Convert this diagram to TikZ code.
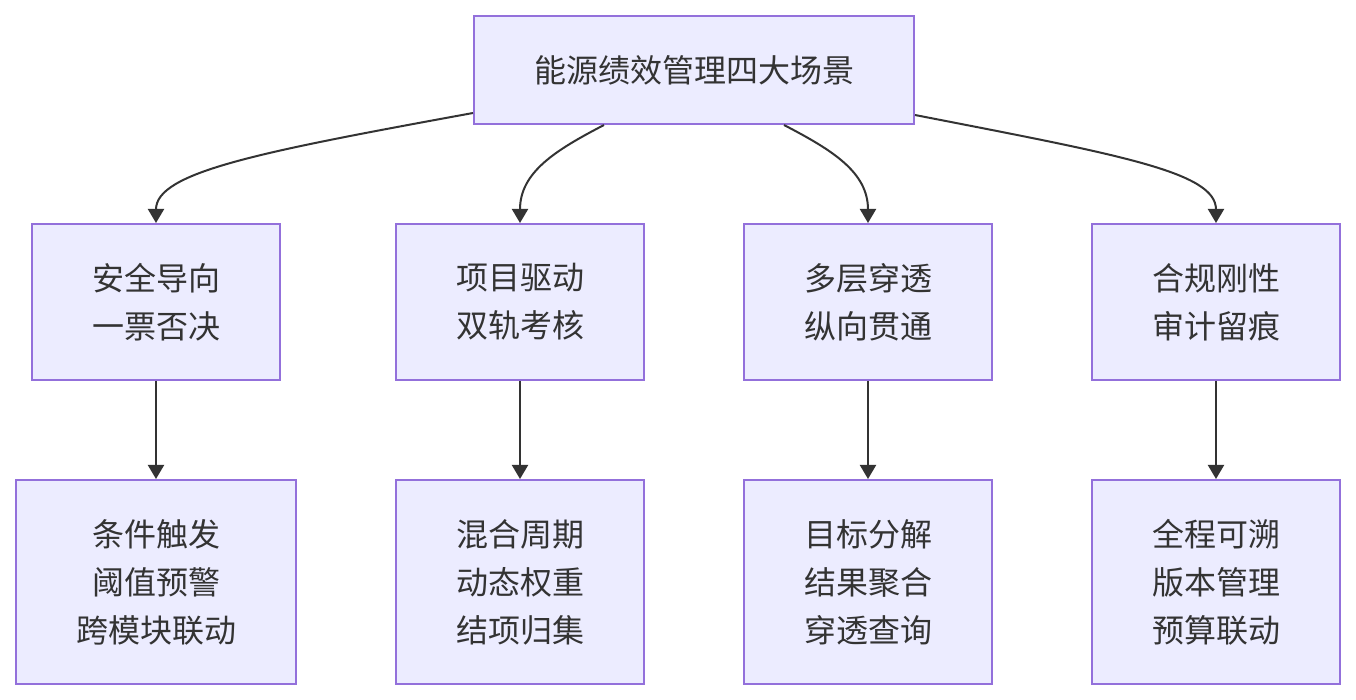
\documentclass[tikz,border=0pt]{standalone}
\usepackage{fontspec}
\setmainfont{Noto Sans CJK SC}
\usetikzlibrary{arrows.meta}
\definecolor{boxfill}{HTML}{ECECFF}
\definecolor{boxline}{HTML}{9370DB}
\definecolor{inkgray}{HTML}{333333}
\tikzset{
    scene/.style={draw=boxline, fill=boxfill, line width=1pt, text=inkgray, align=center,
        inner sep=0pt, font=\fontsize{16}{24}\selectfont},
    link/.style={draw=inkgray, line width=1pt, -{Triangle[length=7pt,width=8pt]}}
}
\begin{document}
\begin{tikzpicture}[x=0.5pt,y=-0.5pt]
            \useasboundingbox (0,0) rectangle (1356,700);
            \node [scene, minimum width=220pt, minimum height=54pt] (top) at (694,70) {能源绩效管理四大场景};

            \node [scene, minimum width=124pt, minimum height=78pt] (a1) at (156,302) {安全导向\\一票否决};
            \node [scene, minimum width=124pt, minimum height=78pt] (a2) at (520,302) {项目驱动\\双轨考核};
            \node [scene, minimum width=124pt, minimum height=78pt] (a3) at (868,302) {多层穿透\\纵向贯通};
            \node [scene, minimum width=124pt, minimum height=78pt] (a4) at (1216,302) {合规刚性\\审计留痕};

            \node [scene, minimum width=140pt, minimum height=102pt] (b1) at (156,582) {条件触发\\阈值预警\\跨模块联动};
            \node [scene, minimum width=124pt, minimum height=102pt] (b2) at (520,582) {混合周期\\动态权重\\结项归集};
            \node [scene, minimum width=124pt, minimum height=102pt] (b3) at (868,582) {目标分解\\结果聚合\\穿透查询};
            \node [scene, minimum width=124pt, minimum height=102pt] (b4) at (1216,582) {全程可溯\\版本管理\\预算联动};

            % curved links from the title box
            \draw [link] ([yshift=6pt]top.south west) .. controls (260,152) and (156,172) .. (a1.north);
            \draw [link] ([xshift=-45pt]top.south) .. controls (556,150) and (520,172) .. (a2.north);
            \draw [link] ([xshift=45pt]top.south) .. controls (832,150) and (868,172) .. (a3.north);
            \draw [link] ([yshift=5pt]top.south east) .. controls (1120,155) and (1216,172) .. (a4.north);

            \foreach \i in {1,...,4} {
                \draw [link] (a\i.south) -- (b\i.north);
            }
        \end{tikzpicture}
\end{document}
